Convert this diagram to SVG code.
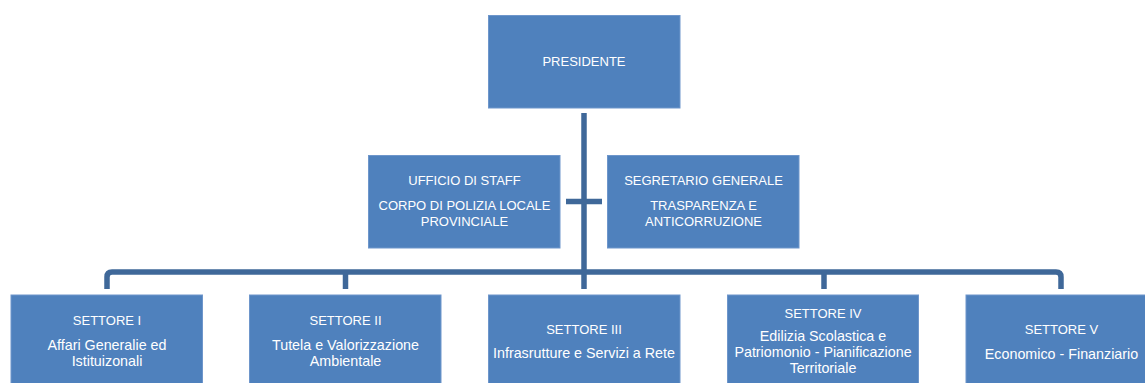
<svg xmlns="http://www.w3.org/2000/svg" width="1145" height="383" viewBox="0 0 1145 383">
<style>
.box{fill:#4F81BD;stroke:#6E96CB;stroke-width:1}
.t{font-family:"Liberation Sans",Arial,sans-serif;font-size:13px;fill:#FFFFFF;text-anchor:middle}
.l{font-size:14.3px}
.c{fill:none;stroke:#3F6899;stroke-width:5.5;stroke-linejoin:round}
</style>
<rect width="1145" height="383" fill="#FFFFFF"/>
<g id="connectors">
<path class="c" d="M584,113 V289"/>
<path class="c" d="M566,201.5 H602"/>
<path class="c" d="M107,289 V277 Q107,272 112,272 H1056 Q1061,272 1061,277 V289"/>
<path class="c" d="M345.5,272 V289"/>
<path class="c" d="M824,272 V289"/>
</g>
<g id="presidente">
<rect class="box" x="488.5" y="15.5" width="191.5" height="92.5"/>
<text class="t" x="584" y="66">PRESIDENTE</text>
</g>
<g id="ufficio-staff">
<rect class="box" x="368.5" y="155.5" width="191.5" height="92.5"/>
<text class="t" x="464.5" y="185">UFFICIO DI STAFF</text>
<text class="t" x="464.5" y="209.5">CORPO DI POLIZIA LOCALE</text>
<text class="t" x="464.5" y="225.5">PROVINCIALE</text>
</g>
<g id="segretario">
<rect class="box" x="607.5" y="155.5" width="191.5" height="92.5"/>
<text class="t" x="703.5" y="185">SEGRETARIO GENERALE</text>
<text class="t" x="703.5" y="209.5">TRASPARENZA E</text>
<text class="t" x="703.5" y="225.5">ANTICORRUZIONE</text>
</g>
<g id="settore-1">
<rect class="box" x="11" y="295" width="191.5" height="93"/>
<text class="t" x="107" y="325">SETTORE I</text>
<text class="t l" x="107" y="349.5">Affari Generalie ed</text>
<text class="t l" x="107" y="365.5">Istituizonali</text>
</g>
<g id="settore-2">
<rect class="box" x="249.5" y="295" width="191.5" height="93"/>
<text class="t" x="345.5" y="325">SETTORE II</text>
<text class="t l" x="345.5" y="349.5">Tutela e Valorizzazione</text>
<text class="t l" x="345.5" y="365.5">Ambientale</text>
</g>
<g id="settore-3">
<rect class="box" x="488.5" y="295" width="191.5" height="93"/>
<text class="t" x="584" y="333.5">SETTORE III</text>
<text class="t l" x="584" y="358">Infrasrutture e Servizi a Rete</text>
</g>
<g id="settore-4">
<rect class="box" x="727.5" y="295" width="191" height="93"/>
<text class="t" x="823" y="317.5">SETTORE IV</text>
<text class="t l" x="823" y="341">Edilizia Scolastica e</text>
<text class="t l" x="823" y="357">Patriomonio - Pianificazione</text>
<text class="t l" x="823" y="373">Territoriale</text>
</g>
<g id="settore-5">
<rect class="box" x="966" y="295" width="191.5" height="93"/>
<text class="t" x="1061.5" y="334">SETTORE V</text>
<text class="t l" x="1061.5" y="358.5">Economico - Finanziario</text>
</g>
</svg>
